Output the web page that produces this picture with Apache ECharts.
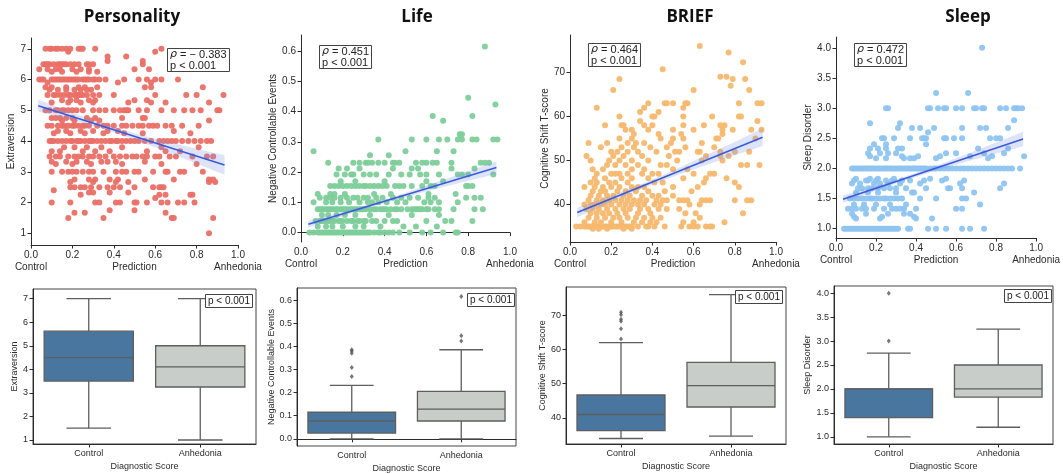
<!DOCTYPE html>
<html><head><meta charset="utf-8">
<script src="https://cdn.jsdelivr.net/npm/echarts@6/dist/echarts.min.js"></script>
<style>html,body{margin:0;padding:0;background:#fff}#c{width:1063px;height:474px}</style>
</head><body><div id="c"></div>
<script>
// ---------- DATA ----------
const titles = ['Personality', 'Life', 'BRIEF', 'Sleep'];
const yNames = ['Extraversion', 'Negative Controllable Events', 'Cognitive Shift T-score', 'Sleep Disorder'];
const predLabels = ['Control', 'Prediction', 'Anhedonia'];
const xTicks = [0, 0.2, 0.4, 0.6, 0.8, 1.0];
const boxCats = ['Control', 'Anhedonia'];
const xBoxName = 'Diagnostic Score';
const rhoValues = ['− 0.383', '0.451', '0.464', '0.472'];
const pText = 'p < 0.001';
const yTicks1 = [1, 2, 3, 4, 5, 6, 7];
const yTicks2 = [0, 0.1, 0.2, 0.3, 0.4, 0.5, 0.6];
const yTicks3 = [40, 50, 60, 70];
const yTicks4 = [1, 1.5, 2, 2.5, 3, 3.5, 4];

// scatter rows: [y, [x values]]
const persRows = [
 [7, [0.07,0.09,0.1,0.12,0.13,0.15,0.17,0.19,0.23,0.24,0.25,0.31,0.63]],
 [6.9, [0.18,0.6]], [6.75, [0.37,0.46]], [6.6, [0.37,0.54]],
 [6.5, [0.06,0.07,0.08,0.09,0.11,0.13,0.14,0.15,0.16,0.17,0.19,0.21,0.23,0.27,0.28,0.3,0.54]],
 [6.33, [0.04,0.08,0.12,0.14,0.2,0.24,0.28,0.5,0.57]],
 [6.25, [0.1,0.15,0.22,0.28,0.32]],
 [6.0, [0.04,0.05,0.06,0.1,0.11,0.12,0.13,0.14,0.15,0.16,0.17,0.18,0.19,0.2,0.21,0.22,0.23,0.25,0.26,0.27,0.28,0.3,0.31,0.33,0.36,0.45,0.52,0.56,0.6,0.63,0.71]],
 [5.9, [0.08,0.42,0.58]],
 [5.75, [0.07,0.1,0.17,0.23,0.26,0.32,0.55,0.58,0.83]],
 [5.67, [0.09,0.13,0.17,0.21,0.24,0.27,0.29]],
 [5.5, [0.08,0.11,0.12,0.14,0.16,0.18,0.19,0.21,0.22,0.23,0.24,0.25,0.27,0.3,0.33,0.4,0.6,0.75,0.8,0.93]],
 [5.33, [0.15,0.19,0.22,0.28,0.31,0.5,0.56]],
 [5.25, [0.1,0.18,0.24,0.3,0.47,0.58,0.65,0.86]],
 [5.0, [0.07,0.09,0.12,0.13,0.15,0.16,0.18,0.2,0.22,0.25,0.3,0.33,0.36,0.4,0.43,0.45,0.46,0.47,0.52,0.56,0.63,0.69,0.74,0.78,0.82,0.9,0.91]],
 [4.75, [0.1,0.12,0.14,0.17,0.2,0.27,0.31,0.44,0.54,0.55]],
 [4.67, [0.15,0.21,0.29,0.33,0.86]],
 [4.5, [0.08,0.1,0.13,0.15,0.16,0.18,0.2,0.21,0.23,0.25,0.26,0.28,0.32,0.35,0.37,0.4,0.44,0.46,0.49,0.52,0.54,0.57,0.59,0.61,0.65,0.68,0.73,0.81]],
 [4.33, [0.13,0.17,0.24,0.3,0.37,0.42,0.69]],
 [4.25, [0.11,0.19,0.26,0.35,0.45,0.54,0.77]],
 [4.0, [0.09,0.1,0.11,0.13,0.15,0.17,0.19,0.2,0.22,0.23,0.24,0.26,0.28,0.29,0.3,0.32,0.34,0.36,0.38,0.39,0.41,0.42,0.44,0.46,0.48,0.5,0.52,0.55,0.58,0.62,0.64,0.66,0.68,0.7,0.73,0.76,0.79,0.82,0.85,0.87]],
 [3.8, [0.16,0.21,0.27,0.34,0.44,0.63,0.81]],
 [3.67, [0.1,0.14,0.25,0.31,0.38,0.56,0.65,0.72]],
 [3.5, [0.09,0.12,0.14,0.18,0.21,0.23,0.25,0.28,0.3,0.33,0.36,0.4,0.43,0.46,0.49,0.51,0.54,0.56,0.6,0.62,0.67,0.7,0.78,0.85,0.88]],
 [3.33, [0.1,0.17,0.22,0.27,0.34,0.37,0.41,0.55]],
 [3.25, [0.12,0.2,0.29,0.44,0.63,0.8]],
 [3.0, [0.1,0.15,0.18,0.2,0.22,0.25,0.28,0.3,0.35,0.41,0.44,0.46,0.5,0.52,0.59,0.65,0.66,0.72,0.74,0.83]],
 [2.75, [0.21,0.28,0.31,0.38,0.42,0.55,0.69,0.86,0.88]],
 [2.67, [0.19,0.3,0.41,0.47,0.86,0.89]],
 [2.5, [0.19,0.21,0.24,0.26,0.29,0.33,0.37,0.4,0.43,0.5,0.59,0.62,0.63,0.64]],
 [2.4, [0.11]], [2.33, [0.28,0.3,0.38,0.47]], [2.25, [0.24,0.62,0.65,0.77,0.78]], [2.15, [0.6]],
 [2.0, [0.1,0.19,0.31,0.33,0.41,0.43,0.5,0.51,0.56,0.63,0.66,0.71,0.74,0.79]],
 [1.75, [0.38,0.5]], [1.67, [0.21,0.26,0.65]], [1.5, [0.18,0.35,0.68,0.69,0.88]], [1.0, [0.86]]
];
const lifeRows = [
 [0, [0.04,0.06,0.08,0.09,0.1,0.11,0.12,0.13,0.14,0.15,0.16,0.17,0.18,0.19,0.2,0.21,0.22,0.23,0.24,0.25,0.26,0.27,0.28,0.29,0.3,0.31,0.32,0.33,0.35,0.37,0.38,0.4,0.42,0.44,0.47,0.52,0.58,0.62,0.68,0.74,0.75]],
 [0.02, [0.08,0.12,0.15,0.2,0.26,0.3,0.38,0.49,0.55,0.65]],
 [0.038, [0.07,0.09,0.1,0.11,0.12,0.13,0.14,0.15,0.16,0.18,0.19,0.2,0.22,0.24,0.25,0.27,0.28,0.3,0.31,0.34,0.36,0.4,0.44,0.46,0.6,0.69,0.72,0.82]],
 [0.058, [0.1,0.13,0.17,0.21,0.26,0.33,0.42,0.53,0.66]],
 [0.077, [0.08,0.09,0.1,0.11,0.12,0.13,0.14,0.15,0.16,0.17,0.18,0.19,0.2,0.21,0.22,0.23,0.24,0.25,0.26,0.27,0.28,0.29,0.3,0.31,0.33,0.35,0.36,0.38,0.39,0.4,0.41,0.43,0.45,0.46,0.48,0.51,0.53,0.54,0.55,0.56,0.57,0.58,0.6,0.61,0.64,0.66,0.73,0.83,0.87]],
 [0.1, [0.06,0.12,0.15,0.19,0.23,0.28,0.32,0.34,0.37,0.41,0.46,0.5,0.59,0.62,0.66,0.75]],
 [0.115, [0.09,0.12,0.14,0.16,0.19,0.22,0.25,0.27,0.3,0.32,0.36,0.39,0.44,0.48,0.52,0.56,0.61,0.64,0.79,0.83,0.86]],
 [0.128, [0.08,0.14,0.16,0.21,0.35,0.43,0.61,0.74]],
 [0.154, [0.14,0.16,0.18,0.2,0.22,0.24,0.26,0.28,0.3,0.31,0.33,0.35,0.37,0.39,0.41,0.45,0.47,0.49,0.53,0.58,0.62,0.64,0.79,0.8,0.82]],
 [0.17, [0.19,0.26,0.4,0.6,0.68]],
 [0.192, [0.17,0.21,0.24,0.25,0.3,0.33,0.36,0.42,0.48,0.52,0.57,0.6,0.66,0.75,0.77,0.8,0.92]],
 [0.212, [0.18,0.22,0.28,0.44,0.53,0.56,0.72,0.83]],
 [0.231, [0.13,0.25,0.28,0.31,0.32,0.34,0.37,0.4,0.44,0.45,0.47,0.55,0.58,0.6,0.63,0.65,0.72,0.86,0.88,0.9]],
 [0.256, [0.33,0.42]], [0.269, [0.06,0.5,0.65,0.73]],
 [0.308, [0.37,0.53,0.6,0.66,0.7,0.75,0.77,0.82,0.84,0.92,0.94]],
 [0.325, [0.76,0.77]], [0.37, [0.68]], [0.385, [0.63,0.82]], [0.423, [0.93]], [0.446, [0.8]], [0.615, [0.88]]
];
const briefRows = [
 [35, [0.03,0.05,0.07,0.08,0.09,0.1,0.11,0.12,0.13,0.14,0.15,0.16,0.17,0.18,0.19,0.2,0.21,0.22,0.23,0.24,0.25,0.26,0.27,0.28,0.29,0.3,0.33,0.37,0.38,0.41,0.46,0.54,0.58,0.6,0.62,0.66,0.68,0.69]],
 [34.5, [0.11,0.14,0.18,0.26,0.3]],
 [36, [0.07,0.12,0.15,0.2,0.25,0.31,0.35,0.39,0.42,0.55,0.6,0.75]],
 [37, [0.09,0.13,0.17,0.21,0.24,0.28,0.32,0.36,0.4,0.44,0.63]],
 [38, [0.1,0.13,0.16,0.19,0.23,0.27,0.33,0.39,0.56,0.61,0.84]],
 [39, [0.08,0.11,0.14,0.18,0.22,0.26,0.29,0.34,0.38,0.43,0.47,0.53]],
 [40, [0.07,0.1,0.12,0.15,0.17,0.2,0.24,0.27,0.3,0.33,0.36,0.41,0.44,0.58,0.63]],
 [41, [0.09,0.13,0.16,0.19,0.22,0.25,0.28,0.31,0.34,0.37,0.42,0.45,0.47,0.53,0.55,0.57,0.64,0.66,0.68,0.8,0.86,0.88]],
 [42, [0.1,0.14,0.18,0.21,0.26,0.29,0.35,0.4,0.43,0.5]],
 [43, [0.11,0.15,0.17,0.23,0.27,0.32,0.38,0.46,0.59]],
 [44, [0.07,0.12,0.16,0.2,0.24,0.3,0.33,0.36,0.5,0.62,0.82]],
 [45, [0.1,0.13,0.19,0.22,0.28,0.41,0.45,0.65,0.8]],
 [46, [0.12,0.17,0.25,0.3,0.38,0.55,0.66,0.76]],
 [47, [0.13,0.2,0.22,0.24,0.28,0.35,0.4,0.43,0.6,0.68,0.7]],
 [48, [0.11,0.16,0.3,0.36,0.5,0.57]],
 [49, [0.18,0.22,0.27,0.33,0.44,0.47,0.83,0.86,0.92]],
 [50, [0.1,0.19,0.24,0.3,0.38,0.52,0.64,0.74]],
 [51, [0.08,0.21,0.26,0.35,0.48,0.66,0.73,0.77]],
 [52, [0.2,0.23,0.28,0.33,0.42,0.51,0.53,0.62,0.63,0.73,0.8,0.87]],
 [53, [0.15,0.25,0.31,0.39,0.47,0.56,0.7]],
 [54, [0.09,0.18,0.28,0.32,0.36,0.49,0.64]],
 [55, [0.24,0.3,0.44,0.5,0.55,0.71,0.72,0.9]],
 [56, [0.31,0.43,0.54,0.74]],
 [57, [0.27,0.3,0.38,0.5,0.6,0.74,0.79,0.88,0.93]],
 [58, [0.17,0.25,0.26,0.36,0.4,0.55,0.65,0.73,0.75]],
 [59, [0.34,0.91]], [60, [0.24,0.4,0.41,0.55,0.69,0.82,0.83]], [61, [0.34,0.43]], [62, [0.13,0.36,0.55]],
 [63, [0.38,0.46,0.47,0.5,0.56,0.57,0.82,0.91,0.93]],
 [66, [0.21,0.6,0.87]], [67, [0.78]], [68.5, [0.24,0.79,0.85]], [69, [0.73,0.76]],
 [70.7, [0.45]], [72.3, [0.84]], [74.5, [0.77]], [76, [0.63]]
];
const sleepRows = [
 [1.0, [0.04,0.05,0.06,0.07,0.08,0.09,0.1,0.11,0.12,0.13,0.14,0.15,0.16,0.17,0.18,0.19,0.2,0.21,0.22,0.23,0.24,0.25,0.26,0.27,0.28,0.29,0.3,0.31,0.36,0.37,0.46,0.5,0.55,0.63,0.67,0.74]],
 [1.17, [0.1,0.22,0.4,0.48]], [1.2, [0.09,0.23,0.39]], [1.25, [0.08,0.15,0.26,0.34,0.37]],
 [1.33, [0.06,0.08,0.1,0.13,0.15,0.19,0.24,0.28,0.3,0.32,0.34,0.4,0.6,0.63]],
 [1.4, [0.09,0.14,0.2,0.27,0.35,0.72]],
 [1.5, [0.07,0.09,0.11,0.13,0.15,0.17,0.18,0.2,0.22,0.24,0.25,0.27,0.29,0.31,0.33,0.42,0.5,0.63,0.65]],
 [1.6, [0.1,0.16,0.21,0.3,0.38,0.39,0.69]],
 [1.67, [0.11,0.13,0.16,0.18,0.21,0.24,0.27,0.3,0.35,0.45,0.56,0.57,0.63,0.82]],
 [1.75, [0.08,0.12,0.19,0.22,0.26,0.32,0.42,0.62,0.84]],
 [1.8, [0.09,0.15,0.16,0.2,0.25,0.28,0.33,0.37,0.44,0.53,0.64]],
 [1.83, [0.1,0.17,0.21,0.29,0.47,0.55]],
 [2.0, [0.08,0.09,0.1,0.11,0.12,0.13,0.14,0.15,0.16,0.17,0.18,0.19,0.2,0.21,0.22,0.23,0.24,0.25,0.26,0.27,0.28,0.29,0.3,0.31,0.32,0.33,0.34,0.35,0.36,0.37,0.38,0.39,0.4,0.41,0.42,0.43,0.44,0.45,0.47,0.49,0.5,0.52,0.54,0.56,0.58,0.6,0.62,0.64,0.66,0.68,0.7,0.72,0.74,0.76,0.78,0.8,0.82,0.84,0.86,0.88,0.92]],
 [2.17, [0.2,0.25,0.34,0.37,0.39,0.5,0.76]],
 [2.2, [0.17,0.33,0.41,0.52,0.67,0.78,0.94]],
 [2.25, [0.16,0.22,0.26,0.3,0.55,0.6,0.74,0.84]],
 [2.33, [0.17,0.21,0.25,0.31,0.33,0.71,0.86]],
 [2.4, [0.19,0.25,0.45]],
 [2.5, [0.23,0.24,0.29,0.37,0.43,0.44,0.45,0.54,0.55,0.59,0.63,0.77,0.8,0.82]],
 [2.6, [0.46]],
 [2.67, [0.31,0.38,0.42,0.49,0.63,0.72,0.75,0.86]],
 [2.75, [0.17,0.32]], [2.8, [0.89]],
 [3.0, [0.25,0.26,0.46,0.47,0.51,0.54,0.55,0.6,0.63,0.69,0.7,0.73,0.74,0.82,0.85,0.89,0.9,0.91,0.93]],
 [3.25, [0.5,0.66]], [4.0, [0.73]]
];

// regression fit line and confidence band
const fitX = [0.035, 0.935];
const fitY1 = [5.15, 3.22], fitY2 = [0.028, 0.215], fitY3 = [38.2, 55.3], fitY4 = [1.49, 2.49];
const bandX = [0.035, 0.2, 0.35, 0.5, 0.65, 0.8, 0.935];
const bandLo1 = [4.96, 4.68, 4.39, 4.05, 3.67, 3.27, 2.90], bandHi1 = [5.34, 4.92, 4.55, 4.25, 3.99, 3.75, 3.54];
const bandLo2 = [0.017, 0.055, 0.088, 0.118, 0.145, 0.171, 0.194], bandHi2 = [0.039, 0.069, 0.098, 0.132, 0.167, 0.203, 0.236];
const bandLo3 = [37.1, 40.6, 43.7, 46.3, 48.8, 51.2, 53.3], bandHi3 = [39.3, 42.0, 44.7, 47.7, 51.0, 54.2, 57.3];
const bandLo4 = [1.43, 1.633, 1.81, 1.966, 2.112, 2.249, 2.369], bandHi4 = [1.55, 1.713, 1.87, 2.046, 2.232, 2.429, 2.609];

// box stats [min, q1, median, q3, max] for Control, Anhedonia
const box1 = [[1.5, 3.5, 4.5, 5.62, 7.0], [1.0, 3.25, 4.1, 5.0, 7.0]];
const box2 = [[0, 0.025, 0.077, 0.115, 0.231], [0, 0.077, 0.128, 0.205, 0.385]];
const box3 = [[34, 36.3, 41, 46.7, 62], [34.7, 43.2, 49.4, 56.2, 76]];
const box4 = [[1.0, 1.4, 2.0, 2.0, 2.75], [1.2, 1.83, 2.0, 2.5, 3.25]];
// outliers [categoryIndex, value]
const out1 = [];
const out2 = [[0, 0.269], [0, 0.308], [0, 0.37], [0, 0.38], [0, 0.385], [1, 0.423], [1, 0.446], [1, 0.615]];
const out3 = [[0, 63], [0, 66], [0, 68.2], [0, 68.8], [0, 70.1], [0, 70.8]];
const out4 = [[0, 3.0], [0, 4.0]];

// ---------- LAYOUT / STYLE ----------
const FONT = 'Liberation Sans, Arial, sans-serif';
const INK = '#2b2b2b';
const pointColors = ['#ea6f66', '#7dcd9a', '#f5b86e', '#8ec4f0'];
const boxFill = ['#48769f', '#c8cdca'];
const layoutS = [[31, 38, 207, 207], [301, 35, 209, 207], [570, 35, 206, 207], [836, 37, 205, 201]];
const layoutB = [[33, 289, 223, 155], [297, 288, 219, 158], [566, 287, 220, 157], [834, 286, 219, 158]];
const yRangeS = [[0.62, 7.35], [-0.031, 0.653], [31.5, 78.5], [0.846, 4.18]];
const yRangeB = [[0.83, 7.41], [-0.031, 0.652], [32.4, 78.2], [0.85, 4.15]];
const nameGapS = [12.5, 22.5, 19.5, 22.5];
const nameGapB = [13.5, 20.5, 17.5, 21.5];
const titleCenters = [132, 417, 690, 968];
const annPos = [[167, 48], [319, 45], [588, 43], [854, 43]];
const pPos = [[205, 294], [467, 293], [735, 290], [1004, 289]];

const rows = [persRows, lifeRows, briefRows, sleepRows];
const fits = [fitY1, fitY2, fitY3, fitY4];
const bandsLo = [bandLo1, bandLo2, bandLo3, bandLo4];
const bandsHi = [bandHi1, bandHi2, bandHi3, bandHi4];
const yTicks = [yTicks1, yTicks2, yTicks3, yTicks4];
const decimals = [0, 1, 0, 1];
const boxes = [box1, box2, box3, box4];
const outs = [out1, out2, out3, out4];

function expand(r) { const p = []; r.forEach(([y, xs]) => xs.forEach(x => p.push([x, y]))); return p; }

const grid = [], xAxis = [], yAxis = [], series = [], title = [];
const axisLineStyle = { color: INK, width: 1 };

for (let i = 0; i < 4; i++) {
  const L = layoutS[i];
  grid.push({ left: L[0], top: L[1], width: L[2], height: L[3] });
  xAxis.push({
    type: 'value', gridIndex: i, min: 0, max: 1,
    axisLine: { show: true, lineStyle: axisLineStyle },
    axisTick: { show: true, length: 3.5, customValues: xTicks, lineStyle: axisLineStyle },
    axisLabel: { customValues: xTicks, formatter: v => v.toFixed(1), fontSize: 10, color: INK, margin: 5, fontFamily: FONT },
    splitLine: { show: false }
  });
  xAxis.push({
    type: 'value', gridIndex: i, min: 0, max: 1, position: 'bottom', offset: 12,
    axisLine: { show: false }, axisTick: { show: false },
    axisLabel: { customValues: [0, 0.5, 1], showMinLabel: true, showMaxLabel: true, formatter: v => predLabels[Math.round(v * 2)], fontSize: 10, color: INK, margin: 5, fontFamily: FONT },
    splitLine: { show: false }
  });
  const d = decimals[i];
  yAxis.push({
    type: 'value', gridIndex: i, min: yRangeS[i][0], max: yRangeS[i][1],
    name: yNames[i], nameLocation: 'middle', nameGap: nameGapS[i],
    nameTextStyle: { fontSize: 10, color: INK, fontFamily: FONT },
    axisLine: { show: true, lineStyle: axisLineStyle },
    axisTick: { show: true, length: 3.5, customValues: yTicks[i], lineStyle: axisLineStyle },
    axisLabel: { customValues: yTicks[i], formatter: v => v.toFixed(d), fontSize: 10, color: INK, margin: 5, fontFamily: FONT },
    splitLine: { show: false }
  });
  series.push({
    type: 'scatter', xAxisIndex: 2 * i, yAxisIndex: i, data: expand(rows[i]),
    symbolSize: 6, itemStyle: { color: pointColors[i], opacity: 0.95 }, silent: true, z: 2
  });
  const lo = bandsLo[i], hi = bandsHi[i];
  series.push({
    type: 'custom', xAxisIndex: 2 * i, yAxisIndex: i, silent: true, z: 3,
    data: [[bandX[0], lo[0]]],
    renderItem: (params, api) => {
      const pts = bandX.map((x, j) => api.coord([x, hi[j]]))
        .concat(bandX.map((x, j) => api.coord([x, lo[j]])).reverse());
      return { type: 'polygon', shape: { points: pts }, style: { fill: 'rgba(120,145,230,0.25)' } };
    }
  });
  series.push({
    type: 'line', xAxisIndex: 2 * i, yAxisIndex: i, data: fitX.map((x, j) => [x, fits[i][j]]),
    showSymbol: false, silent: true, z: 4, lineStyle: { color: '#3a5bd8', width: 1.6 }
  });
  title.push({
    text: titles[i], left: titleCenters[i], top: 7, textAlign: 'center', padding: 0,
    textStyle: { fontSize: 17, fontWeight: 'bold', fontFamily: 'Open Sans, Noto Sans, sans-serif', color: '#111', lineHeight: 20 }
  });
  title.push({
    text: '{i|ρ} = ' + rhoValues[i] + '\n' + pText, left: annPos[i][0], top: annPos[i][1], padding: [1, 3, 1, 3],
    borderColor: '#444', borderWidth: 1,
    textStyle: { fontSize: 11, fontWeight: 'normal', fontFamily: FONT, color: '#222', lineHeight: 11,
      rich: { i: { fontStyle: 'italic', fontSize: 11, fontFamily: 'DejaVu Sans, sans-serif', color: '#222', lineHeight: 11 } } }
  });
}

function makeBoxRender(k0) {
  return function (params, api) {
    const k = api.value(0);
    const w = api.size([1, 0])[0] * 0.8;
    const p = [1, 2, 3, 4, 5].map(dd => api.coord([k, api.value(dd)]));
    const x = p[0][0];
    const yMin = p[0][1], yQ1 = p[1][1], yMed = p[2][1], yQ3 = p[3][1], yMax = p[4][1];
    const ls = { stroke: '#5e5e5e', lineWidth: 1.3 };
    return {
      type: 'group', children: [
        { type: 'line', shape: { x1: x, y1: yMin, x2: x, y2: yQ1 }, style: ls },
        { type: 'line', shape: { x1: x, y1: yQ3, x2: x, y2: yMax }, style: ls },
        { type: 'line', shape: { x1: x - w / 4, y1: yMin, x2: x + w / 4, y2: yMin }, style: ls },
        { type: 'line', shape: { x1: x - w / 4, y1: yMax, x2: x + w / 4, y2: yMax }, style: ls },
        { type: 'rect', shape: { x: x - w / 2, y: yQ3, width: w, height: yQ1 - yQ3 }, style: { fill: boxFill[k], stroke: '#5e5e5e', lineWidth: 1.3 } },
        { type: 'line', shape: { x1: x - w / 2, y1: yMed, x2: x + w / 2, y2: yMed }, style: ls }
      ]
    };
  };
}

for (let i = 0; i < 4; i++) {
  const L = layoutB[i];
  grid.push({ left: L[0], top: L[1], width: L[2], height: L[3], show: true, borderColor: '#444', borderWidth: 1, backgroundColor: 'transparent' });
  xAxis.push({
    type: 'category', gridIndex: 4 + i, data: boxCats,
    name: xBoxName, nameLocation: 'middle', nameGap: 18,
    nameTextStyle: { fontSize: 9, color: INK, fontFamily: FONT },
    axisLine: { show: true, lineStyle: axisLineStyle },
    axisTick: { show: true, alignWithLabel: true, length: 3.5, lineStyle: axisLineStyle },
    axisLabel: { fontSize: 9, color: INK, margin: 5, fontFamily: FONT },
    splitLine: { show: false }
  });
  const d = decimals[i];
  yAxis.push({
    type: 'value', gridIndex: 4 + i, min: yRangeB[i][0], max: yRangeB[i][1],
    name: yNames[i], nameLocation: 'middle', nameGap: nameGapB[i],
    nameTextStyle: { fontSize: 9, color: INK, fontFamily: FONT },
    axisLine: { show: true, lineStyle: axisLineStyle },
    axisTick: { show: true, length: 3.5, customValues: yTicks[i], lineStyle: axisLineStyle },
    axisLabel: { customValues: yTicks[i], formatter: v => v.toFixed(d), fontSize: 9, color: INK, margin: 5, fontFamily: FONT },
    splitLine: { show: false }
  });
  series.push({
    type: 'custom', xAxisIndex: 8 + i, yAxisIndex: 4 + i, silent: true, z: 2,
    data: boxes[i].map((s, k) => [k].concat(s)),
    encode: { x: 0, y: [1, 2, 3, 4, 5] },
    renderItem: makeBoxRender(i)
  });
  series.push({
    type: 'scatter', xAxisIndex: 8 + i, yAxisIndex: 4 + i, data: outs[i], silent: true, z: 3,
    symbol: 'diamond', symbolSize: [4, 5], itemStyle: { color: '#555' }
  });
  title.push({
    text: pText, left: pPos[i][0], top: pPos[i][1], padding: [2, 3, 1, 3],
    borderColor: '#444', borderWidth: 1, backgroundColor: '#fff',
    textStyle: { fontSize: 10, fontWeight: 'normal', fontFamily: FONT, color: '#222', lineHeight: 11 }
  });
}

const chart = echarts.init(document.getElementById('c'), null, { renderer: 'canvas' });
chart.setOption({ animation: false, backgroundColor: '#fff', title, grid, xAxis, yAxis, series });
</script>
</body></html>
